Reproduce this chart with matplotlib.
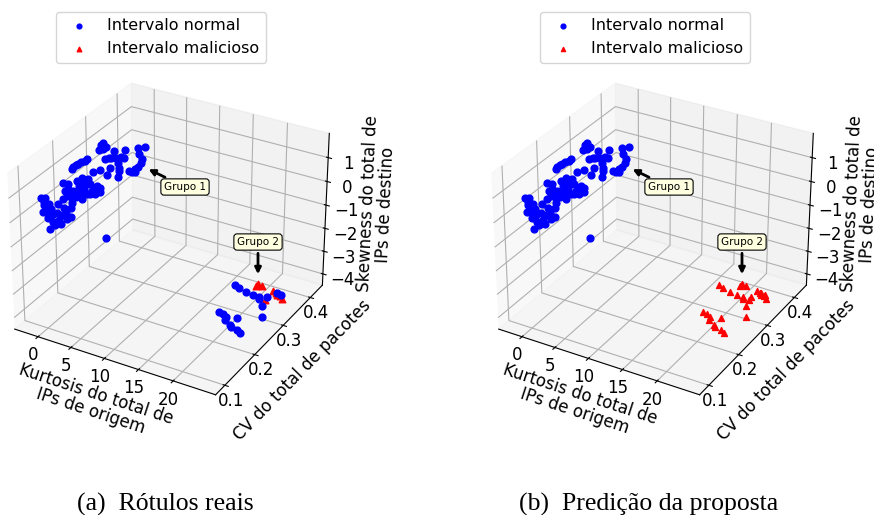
import matplotlib
matplotlib.use("Agg")
import matplotlib.pyplot as plt

# group 1: normal intervals (kurtosis fixed low, CV and skewness)
g1_cv = [.277, .266, .287, .312, .345, .297, .317, .343, .282, .388, .413, .393, .403, .388, .358, .378,
         .322, .327, .322, .297, .287, .266, .229, .211, .196, .183, .246, .211, .231, .196, .155, .170,
         .185, .216, .242, .266, .251, .226, .211, .181, .155, .140, .104, .091, .100, .120, .095, .155,
         .176, .150, .176, .110, .124, .115, .145, .161, .170, .201, .221, .236, .257, .191, .165, .135,
         .110, .130, .280,
         .100, .115, .105, .120, .140, .165, .181, .160, .176, .201, .211, .226, .246, .267, .236, .211,
         .277, .272, .302, .332, .327, .378, .368, .398, .201, .221, .186]
g1_skew = [1.38, 1.21, 1.11, .69, .42, .56, .35, .11, .67, .06, -.15, -.27, -.57, -.74, -.62, -.86,
           .09, -.31, -.49, .13, -.04, .38, 1.21, 1.28, 1.32, 1.28, .50, .63, .39, .66, .99, .59,
           .34, .13, -.24, -.53, -.49, -.20, -.27, .11, .34, .30, .93, 1.08, .70, .31, .47, -.03,
           -.27, -.26, -.63, .07, -.26, -.43, -.56, -.30, .81, .39, .22, .11, -.19, .06, .36, 0.0,
           .29, -.46, -2.7,
           .84, .59, .49, .09, -.36, -.58, -.11, .63, .31, .09, .41, .30, -.15, -.39, -.32, .04,
           1.16, 1.36, .50, .23, -.17, -.73, -.75, -.68, 1.29, 1.23, 1.33]
g1_kurt = [0.1] * len(g1_cv)

# group 2, true label normal
g2n_kurt = [16.11, 16.86, 18.13, 19.41, 20.26, 20.58, 21.17, 21.75, 22.93, 20.21, 17.49, 18.13, 18.88,
            19.09, 20.16, 20.58, 21.65, 22.23, 22.5, 21.97]
g2n_cv = [.365, .361, .356, .351, .353, .346, .360, .328, .298, .275, .277, .276, .270, .260, .252,
          .248, .244, .239, .377, .378]
g2n_skew = [-4.4] * len(g2n_cv)

# group 2, true label malicious
g2m_kurt = [18.67, 18.67, 19.3, 21.38, 21.22, 22.07, 22.61, 23.14, 21.75]
g2m_cv = [.389, .380, .387, .349, .380, .373, .372, .365, .377]
g2m_skew = [-4.4] * len(g2m_cv)

x_ticks = [0, 5, 10, 15, 20]
y_ticks = [0.1, 0.2, 0.3, 0.4]
z_ticks = [-4, -3, -2, -1, 0, 1]

W, H = 874, 515


def fpos(x, y):
    return x / W, 1 - y / H


def draw_panel(left, normal, malicious, caption, red_size):
    ax = fig.add_axes([(left - 13.5) / W, 1 - 416.5 / H, 360 / W, 360 / H], projection="3d")
    ax.patch.set_alpha(0)
    ax.set_box_aspect((4, 4, 3.08))
    h1 = ax.scatter(*normal, c="blue", marker="o", s=24, depthshade=False, label="Intervalo normal")
    h2 = ax.scatter(*malicious, c="red", marker="^", s=red_size, depthshade=False, label="Intervalo malicioso")
    ax.set_xlim(-3.6, 26)
    ax.set_ylim(0.07, 0.446)
    ax.set_zlim(-4.5, 2)
    ax.set_xticks(x_ticks)
    ax.set_yticks(y_ticks)
    ax.set_zticks(z_ticks)
    ax.tick_params(labelsize=12, pad=1)
    ax.tick_params(axis="x", pad=-3)
    ax.tick_params(axis="y", pad=-4)
    ax.set_xlabel("Kurtosis do total de\nIPs de origem", fontsize=12, labelpad=0, linespacing=1.0)
    ax.set_ylabel("CV do total de pacotes", fontsize=12, labelpad=0)
    ax.set_zlabel("Skewness do total de\nIPs de destino", fontsize=12, labelpad=2, linespacing=1.0)
    fig.legend(handles=[h1, h2], loc="upper center", bbox_to_anchor=fpos(left + 161, 4), fontsize=11.5,
               markerscale=0.7)

    box = dict(boxstyle="round,pad=0.3", fc="#ffffe0", ec="black", lw=0.8)
    arrow = dict(arrowstyle="-|>", color="black", lw=2, mutation_scale=9)
    ax.annotate("Grupo 1", xy=fpos(left + 146, 168), xycoords="figure fraction",
                xytext=fpos(left + 185, 187), textcoords="figure fraction",
                fontsize=7.5, ha="center", va="center", bbox=box, arrowprops=arrow)
    ax.annotate("Grupo 2", xy=fpos(left + 258, 277), xycoords="figure fraction",
                xytext=fpos(left + 258, 242), textcoords="figure fraction",
                fontsize=7.5, ha="center", va="center", bbox=box, arrowprops=arrow)
    fig.text((left + 165) / W, 1 - 504 / H, caption, family="Liberation Serif", fontsize=18.5,
             ha="center", va="center")


fig = plt.figure(figsize=(W / 100, H / 100), dpi=100)

draw_panel(0, (g1_kurt + g2n_kurt, g1_cv + g2n_cv, g1_skew + g2n_skew),
           (g2m_kurt, g2m_cv, g2m_skew), "(a)  Rótulos reais", 22)
draw_panel(484, (g1_kurt, g1_cv, g1_skew),
           (g2n_kurt + g2m_kurt, g2n_cv + g2m_cv, g2n_skew + g2m_skew), "(b)  Predição da proposta", 18)

fig.savefig("out.png", dpi=100)
